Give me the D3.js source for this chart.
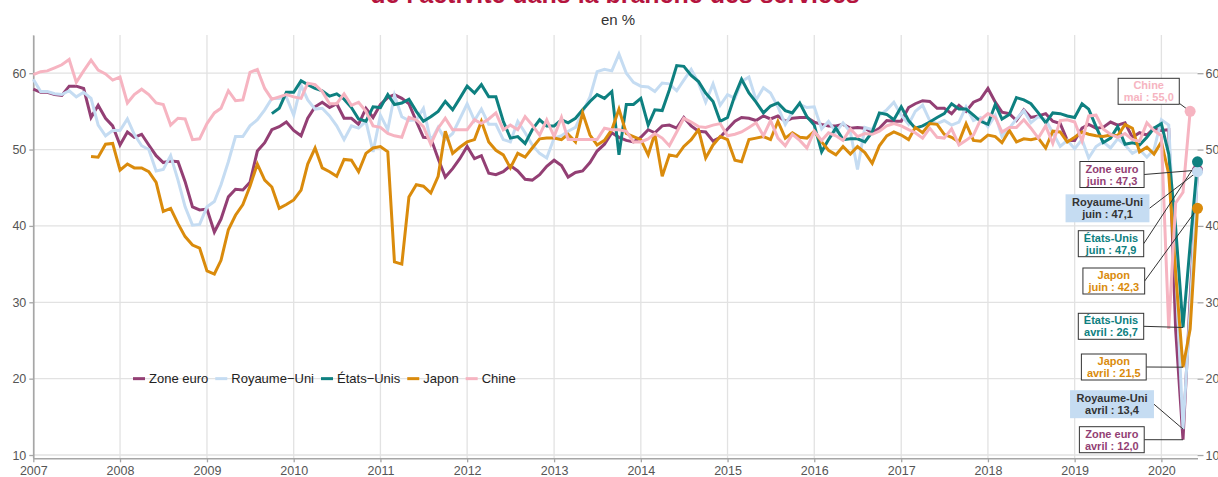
<!DOCTYPE html>
<html><head><meta charset="utf-8">
<script src="https://cdn.jsdelivr.net/npm/d3@7"></script>
<style>
html,body{margin:0;padding:0;background:#fff;}
svg{display:block;font-family:"Liberation Sans",Arial,sans-serif;}
</style></head>
<body><svg id="chart" width="1218" height="477"></svg>
<script>
// ---------- DATA (monthly, Jan 2007 -> Jun 2020) ----------
const seriesNames = ["Zone euro","Royaume-Uni","États-Unis","Japon","Chine"];
const legendLabels = ["Zone euro","Royaume\u2212Uni","États\u2212Unis","Japon","Chine"];
const xTickYears = [2007,2008,2009,2010,2011,2012,2013,2014,2015,2016,2017,2018,2019,2020];
const yTicks = [10,20,30,40,50,60];

const zoneEuro = [
 57.9,57.5,57.5,57.2,57.1,58.3,58.3,58.0,54.2,55.8,54.1,53.1, // 2007
 50.6,52.3,51.6,52.0,50.6,49.2,48.3,48.5,48.4,45.8,42.5,42.1, // 2008
 42.2,39.2,40.9,43.8,44.8,44.7,45.7,49.8,50.9,52.6,53.0,53.6, // 2009
 52.5,51.8,54.1,55.6,56.2,55.5,56.0,54.1,54.1,53.3,55.4,54.2, // 2010
 55.9,56.8,57.2,56.7,56.0,53.7,51.6,51.5,48.8,46.4,47.5,48.8, // 2011
 50.4,48.8,49.2,46.9,46.7,47.1,47.9,47.2,46.1,46.0,46.7,47.8, // 2012
 48.6,47.9,46.4,47.0,47.2,48.3,49.8,50.7,52.2,51.6,51.2,51.0, // 2013
 51.6,52.6,52.2,53.1,53.2,52.8,54.2,53.1,52.4,52.3,51.1,51.6, // 2014
 52.7,53.7,54.2,54.1,53.8,54.4,54.0,54.4,53.7,54.1,54.2,54.2, // 2015
 53.6,53.3,53.1,53.1,53.3,52.8,52.9,52.8,52.2,52.8,53.8,53.7, // 2016
 53.7,55.5,56.0,56.4,56.3,55.4,55.4,54.7,55.8,55.0,56.2,56.6, // 2017
 58.0,56.2,54.9,54.7,53.8,55.2,54.2,54.4,54.7,53.7,53.4,51.2, // 2018
 51.2,52.8,53.3,52.8,52.9,53.6,53.2,53.5,51.6,52.2,51.9,52.8, // 2019
 52.5,52.6,26.4,12.0,30.5,47.3                                // 2020
];
const royaumeUni = [
 59.2,57.6,57.6,57.3,57.2,57.7,56.9,57.5,56.7,53.2,51.8,52.5,
 52.5,54.0,52.0,50.5,50.0,47.2,47.4,49.2,46.0,42.5,40.1,40.2,
 42.5,43.2,45.4,48.4,51.7,51.7,53.1,53.9,55.2,56.7,56.7,56.9,
 54.5,58.4,56.5,55.3,55.4,54.4,53.1,51.3,53.1,52.8,53.7,49.7,
 54.5,52.6,57.1,54.3,53.8,53.9,55.4,51.1,52.9,51.3,52.1,54.0,
 56.0,53.8,55.3,53.3,53.3,51.3,51.0,53.7,52.2,50.6,49.5,48.9,
 51.5,51.8,52.4,52.9,54.9,56.9,60.2,60.5,60.3,62.5,60.0,58.8,
 58.3,58.2,57.6,58.7,58.6,57.7,59.1,60.5,58.7,56.2,58.6,55.8,
 57.2,56.7,58.9,59.5,56.5,58.1,57.4,55.6,53.3,54.9,55.9,55.5,
 55.6,52.7,53.7,52.3,53.5,52.3,47.4,52.9,52.6,54.5,55.2,56.2,
 54.5,53.3,55.0,55.8,53.8,53.4,53.8,53.2,53.6,55.6,53.8,54.2,
 53.0,54.5,51.7,52.8,54.0,55.1,53.5,54.3,53.9,52.2,50.4,51.2,
 50.1,51.3,48.9,50.4,51.0,50.2,51.4,50.6,49.5,50.0,49.0,50.0,
 53.9,53.2,34.5,13.4,29.0,47.1
];
const etatsUnis = [
 null,null,null,null,null,null,null,null,null,null,null,null,
 null,null,null,null,null,null,null,null,null,null,null,null,
 null,null,null,null,null,null,null,null,null,54.7,55.4,57.5,
 57.5,59.0,58.5,58.0,57.7,57.0,57.3,56.6,55.5,54.0,53.7,55.6,
 55.5,57.2,55.9,56.1,56.6,55.0,53.7,54.3,55.0,56.3,55.2,56.7,
 58.3,57.4,58.5,56.9,56.9,53.7,51.5,51.7,50.8,52.6,53.9,53.1,
 53.1,53.9,53.5,54.1,55.2,56.3,57.2,56.7,57.6,49.3,55.9,55.9,
 56.7,53.2,55.2,55.1,57.8,61.0,60.9,59.7,58.9,57.4,56.3,53.7,
 54.2,57.1,59.2,57.4,56.2,54.8,55.7,56.1,55.1,54.8,56.1,54.3,
 53.2,49.7,51.3,52.8,51.3,51.4,51.4,51.0,52.3,54.8,54.6,53.9,
 55.6,53.8,52.8,53.1,53.6,54.2,54.7,56.0,55.3,55.3,54.5,53.7,
 53.3,55.9,54.0,54.6,56.8,56.5,56.0,54.8,53.5,54.8,54.7,54.4,
 54.2,56.0,55.3,53.0,50.9,51.5,53.0,50.7,50.9,50.6,51.6,52.8,
 53.4,49.4,39.8,26.7,37.5,48.4
];
const japon = [
 null,null,null,null,null,null,null,null,49.1,49.0,50.7,50.8,
 47.3,48.1,47.6,47.6,47.1,45.7,41.9,42.3,40.3,38.6,37.5,37.1,
 34.1,33.7,35.5,39.5,41.4,42.8,45.2,48.1,46.0,45.1,42.3,42.8,
 43.4,44.7,48.1,50.2,47.6,47.1,46.5,48.7,48.6,47.1,49.5,50.2,
 50.4,49.7,35.3,35.0,43.8,45.4,45.2,44.3,46.5,52.4,49.5,50.3,
 51.0,51.3,53.7,51.0,49.9,49.3,47.6,49.5,49.0,50.2,51.4,51.5,
 51.5,51.3,52.0,51.0,54.8,51.9,50.6,51.2,52.6,55.3,52.1,51.7,
 51.3,49.3,52.1,46.5,49.3,49.1,50.4,51.3,52.6,48.9,50.6,51.7,
 51.3,48.6,48.4,51.3,51.5,51.7,51.3,53.7,51.5,52.2,51.6,51.5,
 52.4,51.0,49.9,49.3,50.4,49.4,50.4,49.6,48.2,50.5,51.8,52.3,
 51.9,51.3,52.9,52.2,53.4,53.3,52.0,51.6,51.0,53.4,51.2,51.1,
 51.9,51.7,50.9,52.5,51.0,51.4,51.3,51.5,50.2,52.4,52.3,51.0,
 51.6,52.3,52.0,51.8,51.7,51.9,51.8,53.3,52.8,49.7,50.3,49.4,
 51.0,46.8,33.8,21.5,26.5,42.3
];
const chine = [
 59.8,60.2,60.3,60.7,61.1,61.8,58.8,60.3,61.7,60.4,59.9,59.1,
 59.5,56.1,57.2,57.9,57.2,56.1,55.9,53.2,54.1,54.0,51.3,51.4,
 53.4,54.8,55.4,57.7,56.4,56.5,60.1,60.5,58.0,56.6,56.9,57.2,
 56.9,56.7,58.7,58.5,57.6,56.0,56.0,57.3,55.8,56.2,55.0,53.1,
 52.9,52.1,51.8,51.6,54.2,53.9,53.0,50.7,52.8,54.1,52.6,52.6,
 52.6,53.9,53.4,54.0,54.8,52.6,53.2,52.6,54.3,53.2,51.9,53.9,
 51.7,54.2,51.3,51.3,51.3,51.3,51.3,52.8,52.6,52.6,52.4,51.0,
 51.0,51.4,52.1,51.5,50.5,52.3,54.1,53.6,53.0,52.9,53.2,53.4,
 51.8,52.0,52.3,52.9,53.5,51.8,53.8,51.5,50.5,52.0,51.2,50.2,
 52.4,51.2,52.2,51.8,51.2,52.7,51.7,52.1,52.0,52.4,53.1,53.4,
 53.1,52.6,52.2,51.5,52.8,51.6,51.5,52.7,50.6,51.2,51.9,53.9,
 54.7,54.2,52.3,52.9,52.9,53.9,52.8,51.5,53.1,50.8,53.8,53.9,
 53.6,51.1,54.4,54.5,52.7,52.0,51.6,52.1,51.3,51.1,53.5,52.5,
 51.8,26.5,43.0,44.4,55.0,null
];
const seriesValues = [zoneEuro, royaumeUni, etatsUnis, japon, chine];

// annotation texts (series, month index, label lines)
const annTexts = [
 {s:"Chine", m:160, l1:"Chine", l2:"mai : 55,0"},
 {s:"Zone euro", m:161, l1:"Zone euro", l2:"juin : 47,3"},
 {s:"Royaume-Uni", m:161, l1:"Royaume-Uni", l2:"juin : 47,1"},
 {s:"États-Unis", m:161, l1:"États-Unis", l2:"juin : 47,9"},
 {s:"Japon", m:161, l1:"Japon", l2:"juin : 42,3"},
 {s:"États-Unis", m:159, l1:"États-Unis", l2:"avril : 26,7"},
 {s:"Japon", m:159, l1:"Japon", l2:"avril : 21,5"},
 {s:"Royaume-Uni", m:159, l1:"Royaume-Uni", l2:"avril : 13,4"},
 {s:"Zone euro", m:159, l1:"Zone euro", l2:"avril : 12,0"}
];

// ---------- LAYOUT / STYLE ----------
const colors = {"Zone euro":"#933f74","Royaume-Uni":"#c5dcf2","États-Unis":"#0e8080","Japon":"#da8b0c","Chine":"#f6b4c1"};
const annPos = [ // box centres in px
 [1148.7,91.3,"corner"],[1112,174.5],[1107.5,208.3],[1111,243.7],[1113.8,281],
 [1111,326.3],[1113.8,367],[1112,404.2],[1111.8,439.7]
];

const svg = d3.select("#chart");
const months = d3.timeMonths(new Date(2007,0,1), new Date(2020,6,1));
const x = d3.scaleTime().domain([months[0], months[months.length-1]]).range([33.3,1197.5]);
const y = d3.scaleLinear().domain([9.57,65]).range([458.3,35]);
const [x0,x1] = x.range();
const [yb,yt] = y.range();

// title (only lower part visible, as in the reference)
svg.append("text").attr("x",615).attr("y",3).attr("text-anchor","middle")
  .attr("font-size",25).attr("font-weight","bold").attr("fill","#b5143e")
  .text("de l'activité dans la branche des services");
svg.append("text").attr("x",618).attr("y",25).attr("text-anchor","middle")
  .attr("font-size",15).attr("fill","#333").text("en %");

// grid
const grid = svg.append("g");
grid.selectAll("line.h").data(yTicks).join("line").attr("class","h")
  .attr("x1",x0).attr("x2",x1).attr("y1",d=>y(d)).attr("y2",d=>y(d))
  .attr("stroke","#e2e2e2").attr("stroke-width",1.3);
const yearDates = xTickYears.map(v=>new Date(v,0,1));
grid.selectAll("line.v").data(yearDates).join("line").attr("class","v")
  .attr("x1",d=>x(d)).attr("x2",d=>x(d)).attr("y1",yt).attr("y2",yb)
  .attr("stroke","#e2e2e2").attr("stroke-width",1.3);

function styleAxis(g){
  g.selectAll(".domain").attr("stroke","#a6a6a6").attr("stroke-width",1.6);
  g.selectAll(".tick line").attr("stroke","#a6a6a6").attr("stroke-width",1.3);
  g.selectAll(".tick text").attr("fill","#555").attr("font-size",12.5)
    .attr("font-family","'Liberation Sans',Arial,sans-serif");
}
const axL = svg.append("g").attr("transform",`translate(${x0},0)`)
  .call(d3.axisLeft(y).tickValues(yTicks).tickSize(4).tickPadding(3).tickSizeOuter(0));
styleAxis(axL);
const axR = svg.append("g").attr("transform",`translate(${x1},0)`)
  .call(d3.axisRight(y).tickValues(yTicks).tickSize(6).tickPadding(2).tickSizeOuter(0));
styleAxis(axR); axR.select(".domain").remove();
const axB = svg.append("g").attr("transform",`translate(0,${yb})`)
  .call(d3.axisBottom(x).tickValues(yearDates).tickFormat(d3.timeFormat("%Y")).tickSize(4).tickPadding(4).tickSizeOuter(0));
styleAxis(axB);

// series
const series = seriesNames.map((n,i)=>({name:n, pts: months.map((d,j)=>({date:d, v:seriesValues[i][j]}))}));
const line = d3.line().defined(d=>d.v!=null).x(d=>x(d.date)).y(d=>y(d.v));
svg.append("g").selectAll("path").data(series).join("path")
  .attr("d",d=>line(d.pts)).attr("fill","none")
  .attr("stroke",d=>colors[d.name]).attr("stroke-width",3);

// annotations
const annG = svg.append("g");
const ann = annTexts.map((a,i)=>{
  const sv = seriesValues[seriesNames.indexOf(a.s)][a.m];
  return {...a, tx:x(months[a.m]), ty:y(sv), cx:annPos[i][0], cy:annPos[i][1], corner:annPos[i][2]==="corner"};
});
ann.forEach(a=>{
  const t = annG.append("text").attr("font-size",11).attr("font-weight","bold");
  t.text(a.l1); const w1 = t.node().getComputedTextLength();
  t.text(a.l2); const w2 = t.node().getComputedTextLength();
  t.remove();
  const uk = a.s==="Royaume-Uni";
  a.w = Math.max(w1,w2) + (uk?13:11); a.h = uk?28:26; a.uk = uk;
});
annG.selectAll("line").data(ann).join("line")
  .attr("x1",a=>a.cx+a.w/2).attr("y1",a=>a.corner? a.cy+a.h/2-1 : a.cy)
  .attr("x2",a=>a.tx).attr("y2",a=>a.ty)
  .attr("stroke","#333").attr("stroke-width",1);
const endPts = ann.filter(a=>a.m>=160);
svg.append("g").selectAll("circle").data(endPts.slice().sort((a,b)=>seriesNames.indexOf(a.s)-seriesNames.indexOf(b.s))).join("circle")
  .attr("cx",a=>a.tx).attr("cy",a=>a.ty).attr("r",5.5).attr("fill",a=>colors[a.s]);
const boxG = svg.append("g").selectAll("g").data(ann).join("g");
boxG.append("rect").attr("x",a=>a.cx-a.w/2).attr("y",a=>a.cy-a.h/2).attr("width",a=>a.w).attr("height",a=>a.h)
  .attr("fill",a=>a.uk?"#c5dcf2":"#fff").attr("stroke",a=>a.uk?"none":"#333").attr("stroke-width",1);
boxG.append("text").attr("x",a=>a.cx).attr("y",a=>a.cy-2).attr("text-anchor","middle")
  .attr("font-size",11).attr("font-weight","bold").attr("fill",a=>a.uk?"#333":colors[a.s]).text(a=>a.l1);
boxG.append("text").attr("x",a=>a.cx).attr("y",a=>a.cy+10).attr("text-anchor","middle")
  .attr("font-size",11).attr("font-weight","bold").attr("fill",a=>a.uk?"#333":colors[a.s]).text(a=>a.l2);

// legend
const leg = svg.append("g");
let lx = 133; const ly = y(20);
seriesNames.forEach((n,i)=>{
  leg.append("line").attr("x1",lx).attr("x2",lx+12).attr("y1",ly).attr("y2",ly)
    .attr("stroke",colors[n]).attr("stroke-width",3);
  const t = leg.append("text").attr("x",lx+16).attr("y",ly+4.5).attr("font-size",13).attr("fill","#222").text(legendLabels[i]);
  lx += 16 + t.node().getComputedTextLength() + 7;
});
</script></body></html>
